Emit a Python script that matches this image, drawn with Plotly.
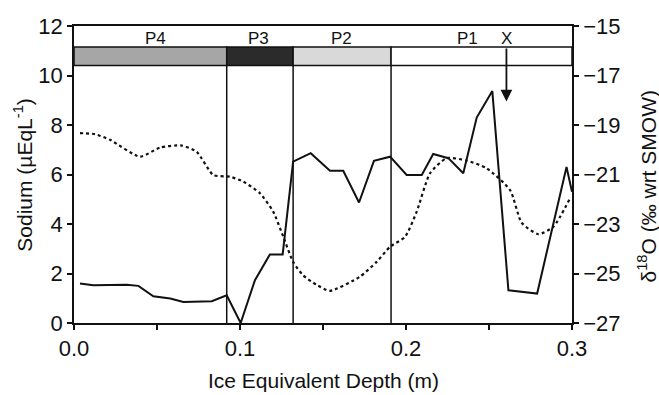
import plotly.graph_objects as go

# Sodium (solid line, left axis)
na_depth = [0.0036, 0.0116, 0.0317, 0.0388, 0.0478, 0.058, 0.0659, 0.076, 0.083, 0.092,
            0.1004, 0.109, 0.118, 0.1257, 0.132, 0.1426, 0.1542, 0.1622, 0.1717, 0.1807,
            0.1904, 0.2004, 0.2095, 0.2164, 0.2255, 0.2345, 0.2426, 0.252, 0.2617, 0.279,
            0.2967, 0.3]
na_values = [1.6, 1.53, 1.55, 1.5, 1.08, 0.99, 0.85, 0.85, 0.88, 1.12,
             0.0, 1.73, 2.77, 2.77, 6.52, 6.86, 6.15, 6.15, 4.87, 6.55,
             6.72, 5.98, 5.98, 6.83, 6.66, 6.05, 8.3, 9.37, 1.32, 1.19,
             6.3, 5.3]

# delta 18O (dotted line, right axis)
d18o_depth = [0.0036, 0.0127, 0.0217, 0.0398, 0.0518, 0.0649, 0.0739, 0.0839, 0.094, 0.102,
              0.112, 0.12, 0.1261, 0.132, 0.138, 0.146, 0.154, 0.172, 0.1823, 0.1904,
              0.1994, 0.2064, 0.2145, 0.2245, 0.2366, 0.2486, 0.2627, 0.2697, 0.2797, 0.2888,
              0.2988]
d18o_values = [-19.33, -19.37, -19.6, -20.28, -19.91, -19.83, -20.08, -21.02, -21.09, -21.29,
               -21.76, -22.5, -23.52, -24.53, -25.07, -25.45, -25.7, -25.14, -24.53, -23.92,
               -23.52, -22.51, -20.95, -20.34, -20.44, -20.75, -21.63, -22.95, -23.41, -23.11,
               -21.96]

# Periods
period_bounds = [0.0, 0.092, 0.132, 0.191, 0.3]
period_labels = ["P4", "P3", "P2", "P1"]
period_label_x = [0.049, 0.111, 0.161, 0.2373]
period_colors = ["#a6a6a6", "#2b2b2b", "#d9d9d9", "#ffffff"]
bar_bottom, bar_top, label_y = 10.4, 11.15, 11.5
marker_x, marker_label, arrow_tip = 0.2605, "X", 8.95

x_tickvals = [0.0, 0.1, 0.2, 0.3]
x_ticktext = ["0.0", "0.1", "0.2", "0.3"]
x_minor_step = 0.05
y_ticks = [0, 2, 4, 6, 8, 10, 12]
y2_ticks = [-27, -25, -23, -21, -19, -17, -15]

FONT = "Liberation Sans, Arial, sans-serif"
INK = "#111111"

fig = go.Figure()
fig.add_trace(go.Scatter(x=d18o_depth, y=d18o_values, yaxis="y2", mode="lines",
                         line=dict(color=INK, width=2.2, dash="dot", shape="spline", smoothing=0.6),
                         showlegend=False))
fig.add_trace(go.Scatter(x=na_depth, y=na_values, mode="lines",
                         line=dict(color=INK, width=2), showlegend=False))

shapes = []
for i, lab in enumerate(period_labels):
    shapes.append(dict(type="rect", xref="x", yref="y", x0=period_bounds[i], x1=period_bounds[i + 1],
                       y0=bar_bottom, y1=bar_top, fillcolor=period_colors[i],
                       line=dict(color=INK, width=1.5), layer="above"))
for b in period_bounds[1:-1]:
    shapes.append(dict(type="line", xref="x", yref="y", x0=b, x1=b, y0=0, y1=bar_bottom,
                       line=dict(color=INK, width=1.5), layer="above"))

annotations = []
for lab, lx in zip(period_labels, period_label_x):
    annotations.append(dict(x=lx, y=label_y, xref="x", yref="y", text=lab, showarrow=False,
                            font=dict(family=FONT, size=17, color=INK)))
annotations.append(dict(x=marker_x, y=label_y, xref="x", yref="y", text=marker_label, showarrow=False,
                        font=dict(family=FONT, size=17, color=INK)))
annotations.append(dict(x=marker_x, y=arrow_tip, xref="x", yref="y", ax=marker_x, ay=bar_top,
                        axref="x", ayref="y", text="", showarrow=True, arrowhead=2, arrowsize=1.3,
                        arrowwidth=1.8, arrowcolor=INK))
annotations.append(dict(x=0.5, y=-0.195, xref="paper", yref="paper", xanchor="center", yanchor="middle",
                        text="Ice Equivalent Depth (m)", showarrow=False, borderpad=0,
                        font=dict(family=FONT, size=21, color=INK)))
annotations.append(dict(x=-0.104, y=0.5, xref="paper", yref="paper", xanchor="center", yanchor="middle",
                        text="Sodium (µEqL<sup>-1</sup>)", textangle=-90, showarrow=False,
                        font=dict(family=FONT, size=21, color=INK)))
annotations.append(dict(x=1.151, y=0.46, xref="paper", yref="paper", xanchor="center", yanchor="middle",
                        text="δ<sup>18</sup>O (‰ wrt SMOW)", textangle=-90, showarrow=False,
                        font=dict(family=FONT, size=21, color=INK)))

fig.update_layout(
    width=659, height=395,
    margin=dict(l=74, r=87, t=26, b=72),
    paper_bgcolor="white", plot_bgcolor="white",
    font=dict(family=FONT, size=22, color=INK),
    shapes=shapes, annotations=annotations,
    xaxis=dict(range=[0, 0.3], tickvals=x_tickvals, ticktext=x_ticktext, ticks="outside",
               ticklen=5, tickwidth=1.5, tickcolor=INK, showline=True, linecolor=INK, linewidth=1.5,
               mirror=True, showgrid=False, zeroline=False,
               minor=dict(dtick=x_minor_step, tick0=0, ticks="outside", ticklen=5, tickwidth=1.5,
                          tickcolor=INK, showgrid=False)),
    yaxis=dict(range=[0, 12], tickvals=y_ticks, ticks="outside", ticklen=5, tickwidth=1.5,
               tickcolor=INK, showline=True, linecolor=INK, linewidth=1.5, showgrid=False,
               zeroline=False),
    yaxis2=dict(range=[-27, -15], tickvals=y2_ticks, overlaying="y", side="right", ticks="outside",
                ticklen=5, tickwidth=1.5, tickcolor=INK, showline=True, linecolor=INK, linewidth=1.5,
                showgrid=False, zeroline=False),
)

fig.write_html("out.html")
